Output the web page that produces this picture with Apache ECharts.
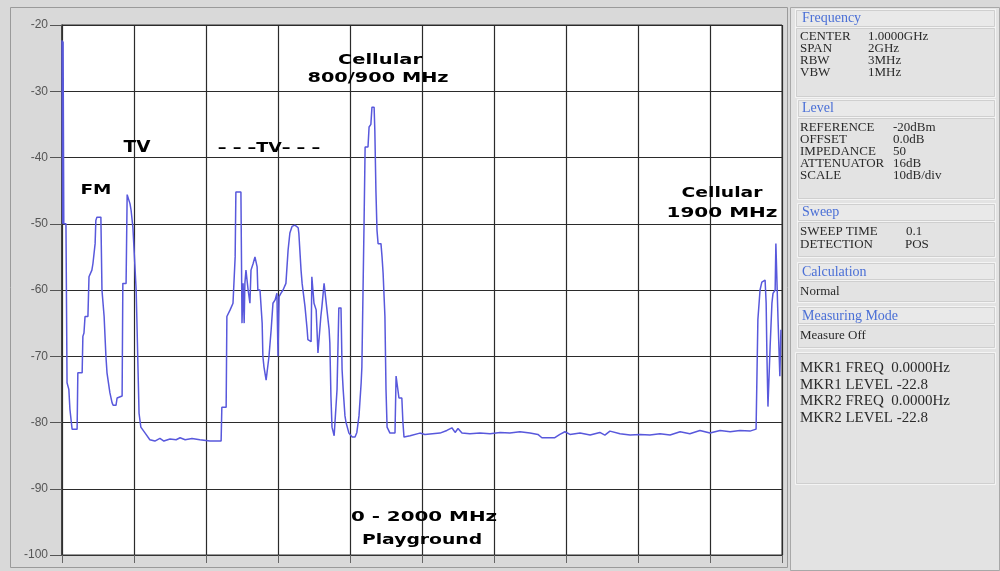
<!DOCTYPE html>
<html>
<head>
<meta charset="utf-8">
<script src="https://cdn.jsdelivr.net/npm/echarts@6/dist/echarts.min.js"></script>
<style>
html,body{margin:0;padding:0;background:#d9d9d9;}
#chart{width:1000px;height:571px;}
</style>
</head>
<body>
<div id="chart"></div>
<script>
// Frequency axis (MHz) and level axis (dBm)
var xTicks = [0, 200, 400, 600, 800, 1000, 1200, 1400, 1600, 1800, 2000];
var yTicks = [-100, -90, -80, -70, -60, -50, -40, -30, -20];

// Trace
var freqMHz = [
  0, 2, 3, 5, 11, 14, 19, 22, 28, 42, 44, 56, 58, 61, 64, 72, 75, 83, 86, 92, 94, 97, 108, 111, 117, 122, 125,
  133, 139, 142, 150, 153, 167, 169, 178, 181, 186, 189, 192, 197, 206, 208, 214, 219, 231, 244, 258, 272,
  283, 300, 317, 328, 342, 361, 383, 411, 442, 444, 456, 458, 467, 475, 481, 483, 497, 500, 503, 506, 508,
  511, 517, 522, 525, 531, 536, 542, 544, 550, 556, 558, 561, 567, 572, 575, 581, 586, 592, 597, 600, 603,
  608, 614, 622, 628, 633, 639, 647, 656, 658, 664, 667, 675, 681, 683, 692, 694, 697, 700, 706, 711, 714,
  719, 722, 728, 731, 736, 742, 744, 747, 750, 756, 761, 764, 769, 775, 778, 781, 786, 789, 797, 806, 814,
  819, 825, 831, 833, 839, 842, 850, 853, 858, 861, 867, 869, 872, 875, 878, 886, 889, 892, 897, 900, 903,
  911, 925, 928, 933, 936, 944, 947, 950, 967, 994, 1008, 1050, 1069, 1083, 1092, 1100, 1111, 1133, 1161,
  1189, 1217, 1244, 1272, 1300, 1322, 1333, 1369, 1383, 1397, 1411, 1439, 1467, 1494, 1508, 1522, 1550,
  1578, 1606, 1633, 1661, 1689, 1717, 1744, 1772, 1800, 1828, 1856, 1883, 1911, 1928, 1931, 1933, 1939,
  1944, 1953, 1956, 1958, 1961, 1964, 1967, 1972, 1975, 1981, 1983, 1986, 1989, 1994, 1997
];
var levelDbm = [
  -22.3, -50, -22.5, -50, -50, -74, -75, -78, -81, -81, -72.5, -72.5, -67, -66.5, -64, -64, -58, -57, -56, -53, -49.5, -49, -49, -60, -64, -70, -72.5,
  -75.5, -77, -77.4, -77.4, -76.3, -76, -59, -59, -45.6, -45.5, -47, -48, -50.6, -60, -64.5, -78.6, -80.7, -81.6, -82.6, -82.8, -82.4,
  -82.8, -82.5, -82.6, -82.3, -82.6, -82.4, -82.6, -82.8, -82.8, -77.7, -77.7, -64, -63, -62, -55, -45.2, -45.2, -65, -59, -65, -59,
  -57, -60, -62, -57, -56, -55, -56.5, -60, -60, -65, -70, -71.6, -73.6, -73.6, -70, -66, -62, -61.5, -60.5, -70, -61,
  -60.5, -60, -59, -54, -51.4, -50.4, -50.2, -50.6, -51.5, -57, -59, -62.5, -66, -67.5, -67.8, -58, -58, -62, -63, -69.5, -69.5,
  -64, -62.5, -59, -59, -63, -66, -68, -76, -80.7, -82, -82, -75, -62.7, -62.7, -72, -75, -79, -80, -81.6, -82.2, -82.2,
  -81.5, -79, -74, -71.6, -50, -38.4, -38.4, -35.4, -35, -32.4, -32.4, -36, -45, -51, -53, -53, -55, -57.5, -64, -75, -80.7,
  -81.6, -81.6, -73, -73, -76.3, -76.3, -80, -82.2, -82, -81.6, -81.8, -81.6, -81.2, -80.8, -81.5, -80.9, -81.6, -81.7, -81.6,
  -81.7, -81.5, -81.6, -81.4, -81.6, -81.8, -82.3, -82.3, -81.8, -81.4, -81.8, -81.6, -81.9, -81.5, -81.9, -81.3, -81.7,
  -81.9, -81.8, -81.9, -81.7, -81.9, -81.4, -81.7, -81.2, -81.6, -81.2, -81.4, -81.2, -81.3, -81, -80.7, -64.5, -60,
  -58.8, -58.5, -62, -69.5, -77.6, -77.6, -68.6, -62, -60.5, -60, -53, -53, -64.5, -73, -66
];

// Band annotations on the plot
var bandLabels = ['FM', 'TV', '– – –TV– – –', 'Cellular', '800/900 MHz', 'Cellular', '1900 MHz', '0 - 2000 MHz', 'Playground'];

// Side panel texts
var panelHeaders = ['Frequency', 'Level', 'Sweep', 'Calculation', 'Measuring Mode'];
var freqRows = [['CENTER', '1.0000GHz'], ['SPAN', '2GHz'], ['RBW', '3MHz'], ['VBW', '1MHz']];
var levelRows = [['REFERENCE', '-20dBm'], ['OFFSET', '0.0dB'], ['IMPEDANCE', '50'], ['ATTENUATOR', '16dB'], ['SCALE', '10dB/div']];
var sweepRows = [['SWEEP TIME', '0.1'], ['DETECTION', 'POS']];
var calcText = 'Normal';
var measureText = 'Measure Off';
var markerRows = ['MKR1 FREQ  0.0000Hz', 'MKR1 LEVEL -22.8', 'MKR2 FREQ  0.0000Hz', 'MKR2 LEVEL -22.8'];

var trace = freqMHz.map(function (f, i) { return [f, levelDbm[i]]; });

var g = [];
// outer frame
g.push({type:'rect', z:-5, shape:{x:10.5,y:7.5,width:777,height:560}, style:{fill:'none', stroke:'#9a9a9a', lineWidth:1}});
// right panel
g.push({type:'rect', shape:{x:790.5,y:7.5,width:209,height:563}, style:{fill:'#e3e3e3', stroke:'#a8a8a8', lineWidth:1}});
function box(x, y, w, h, fill) {
  g.push({type:'rect', shape:{x:x+0.5,y:y+0.5,width:w,height:h}, style:{fill:fill||'none', stroke:'#f4f4f4', lineWidth:1}});
  g.push({type:'rect', shape:{x:x+1.5,y:y+1.5,width:w-2,height:h-2}, style:{fill:'none', stroke:'#cfcfcf', lineWidth:1}});
}
box(795, 9, 200, 18, '#e9e9e9'); box(795, 27, 200, 70);
box(797, 99, 198, 18, '#e9e9e9'); box(797, 117, 198, 82);
box(797, 203, 198, 18, '#e9e9e9'); box(797, 221, 198, 36);
box(797, 262, 198, 18, '#e9e9e9'); box(797, 280, 198, 22);
box(797, 306, 198, 18, '#e9e9e9'); box(797, 324, 198, 24);
box(795, 352, 200, 132);

var serif = '"Liberation Serif", "Times New Roman", serif';
function ptext(x, y, t, color, size) {
  g.push({type:'text', x:x, y:y, z:50, style:{text:t, fill:color||'#2a2a2a', font:(size||13)+'px '+serif, textVerticalAlign:'middle'}});
}
var headerY = [18, 108, 212, 272, 316];
panelHeaders.forEach(function (h, i) { ptext(802, headerY[i], h, '#4a6fd6', 14); });
freqRows.forEach(function (r, i) { ptext(800, 37 + i*12, r[0]); ptext(868, 37 + i*12, r[1]); });
levelRows.forEach(function (r, i) { ptext(800, 128 + i*12, r[0]); ptext(893, 128 + i*12, r[1]); });
sweepRows.forEach(function (r, i) { ptext(800, 232 + i*12.5, r[0]); ptext(i === 0 ? 906 : 905, 232 + i*12.5, r[1]); });
ptext(800, 292, calcText, '#2a2a2a', 13);
ptext(800, 336, measureText, '#2a2a2a', 13);
markerRows.forEach(function (t, i) { ptext(800, 368 + i*16.7, t, '#2a2a2a', 15); });

// band labels (centre x, centre y, font size, horizontal stretch)
var lblPos = [[96,190,14,1.32],[137,148,16,1.15],[269,148,14,1.25],[380,60,14,1.39],[378,78,14,1.38],
              [722,193,14,1.34],[722,213,14,1.43],[424,517,14,1.42],[422,540,14,1.34]];
bandLabels.forEach(function (t, i) {
  var p = lblPos[i];
  g.push({type:'text', x:p[0], y:p[1], scaleX:p[3], z:60,
    style:{text:t, fill:'#000', font:'bold '+p[2]+'px "DejaVu Sans", sans-serif', textAlign:'center', textVerticalAlign:'middle'}});
});

var chart = echarts.init(document.getElementById('chart'));
chart.setOption({
  backgroundColor: '#d9d9d9',
  animation: false,
  grid: {left:62, top:25, width:720, height:530, show:true, backgroundColor:'#ffffff', borderColor:'#333', borderWidth:1},
  xAxis: {
    type:'value', min:xTicks[0], max:xTicks[xTicks.length-1], interval:200,
    axisLine:{show:true, lineStyle:{color:'#333', width:1}},
    axisTick:{show:true, length:8, lineStyle:{color:'#666'}},
    axisLabel:{show:false},
    splitLine:{show:true, lineStyle:{color:'#2b2b2b', width:1.2}}
  },
  yAxis: {
    type:'value', min:yTicks[0], max:yTicks[yTicks.length-1], interval:10,
    axisLine:{show:true, lineStyle:{color:'#333', width:1.5}},
    axisTick:{show:true, length:12, lineStyle:{color:'#555'}},
    axisLabel:{show:true, margin:14, color:'#555', fontSize:12, fontFamily:'"Liberation Sans", Arial, sans-serif'},
    splitLine:{show:true, lineStyle:{color:'#2b2b2b', width:1.2}}
  },
  series: [{
    type:'line', data:trace, symbol:'none', smooth:false,
    lineStyle:{color:'#5858dc', width:1.5}, z:5
  }],
  graphic: g
});
</script>
</body>
</html>
